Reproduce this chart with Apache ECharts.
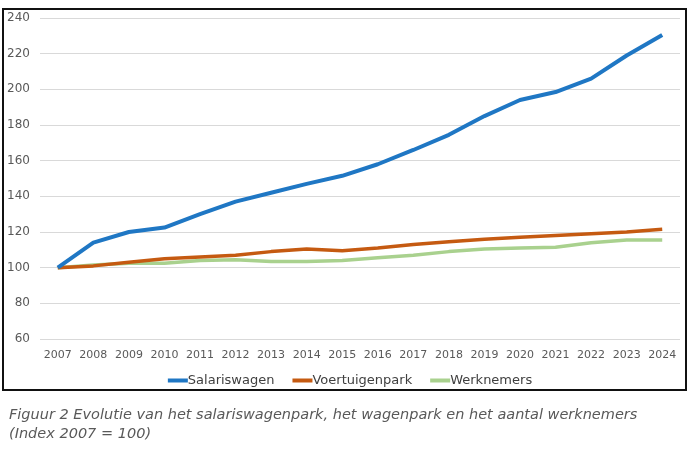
<!DOCTYPE html>
<html>
<head>
<meta charset="utf-8">
<script src="https://cdn.jsdelivr.net/npm/echarts@6/dist/echarts.min.js"></script>
<style>
html,body{margin:0;padding:0;background:#fff;}
#c{width:700px;height:450px;}
</style>
</head>
<body>
<div id="c"></div>
<script>
const years = ['2007','2008','2009','2010','2011','2012','2013','2014','2015','2016','2017','2018','2019','2020','2021','2022','2023','2024'];
const salariswagen = [100,114,120,122.5,130,137,142,147,151.5,158,166,174.5,185,194,198.5,206,219,230.5];
const voertuigenpark = [100,101,103,105,106,107,109,110.5,109.5,111,113,114.5,116,117,118,119,120,121.5];
const werknemers = [100,101.5,102.5,102.5,104,104.5,103.5,103.5,104,105.5,107,109,110.5,111,111.5,114,115.5,115.5];
const seriesNames = ['Salariswagen','Voertuigenpark','Werknemers'];
const caption1 = 'Figuur 2 Evolutie van het salariswagenpark, het wagenpark en het aantal werknemers';
const caption2 = '(Index 2007 = 100)';

const font = '"DejaVu Sans", sans-serif';
const chart = echarts.init(document.getElementById('c'), null, {renderer:'canvas'});
chart.setOption({
  animation:false,
  backgroundColor:'#fff',
  grid:{left:40,right:20,top:18,bottom:111,containLabel:false},
  xAxis:{
    type:'category',data:years,boundaryGap:true,
    axisLine:{show:false},axisTick:{show:false},
    axisLabel:{color:'#595959',fontSize:11,fontFamily:font,margin:11,interval:0}
  },
  yAxis:{
    type:'value',min:60,max:240,interval:20,
    axisLine:{show:false},axisTick:{show:false},
    axisLabel:{color:'#595959',fontSize:12,fontFamily:font,margin:10},
    splitLine:{lineStyle:{color:'#d9d9d9',width:1}}
  },
  legend:{
    data:seriesNames,left:'center',top:369,icon:'rect',itemWidth:20,itemHeight:4,itemGap:18,
    textStyle:{color:'#404040',fontSize:13,fontFamily:font,padding:[0,0,0,-5]}
  },
  series:[
    {name:seriesNames[0],type:'line',data:salariswagen,symbol:'none',lineStyle:{width:4,color:'#1f77c4'},itemStyle:{color:'#1f77c4'},z:3},
    {name:seriesNames[1],type:'line',data:voertuigenpark,symbol:'none',lineStyle:{width:3.5,color:'#c55a11'},itemStyle:{color:'#c55a11'},z:2},
    {name:seriesNames[2],type:'line',data:werknemers,symbol:'none',lineStyle:{width:3.5,color:'#a9d18e'},itemStyle:{color:'#a9d18e'},z:1}
  ],
  graphic:[
    {type:'rect',shape:{x:3,y:9,width:683,height:381},style:{fill:'none',stroke:'#111',lineWidth:2},silent:true},
    {type:'text',left:9,top:408,style:{text:caption1,fill:'#595959',font:'italic 14.5px '+font}},
    {type:'text',left:9,top:427,style:{text:caption2,fill:'#595959',font:'italic 14.5px '+font}}
  ]
});
</script>
</body>
</html>
